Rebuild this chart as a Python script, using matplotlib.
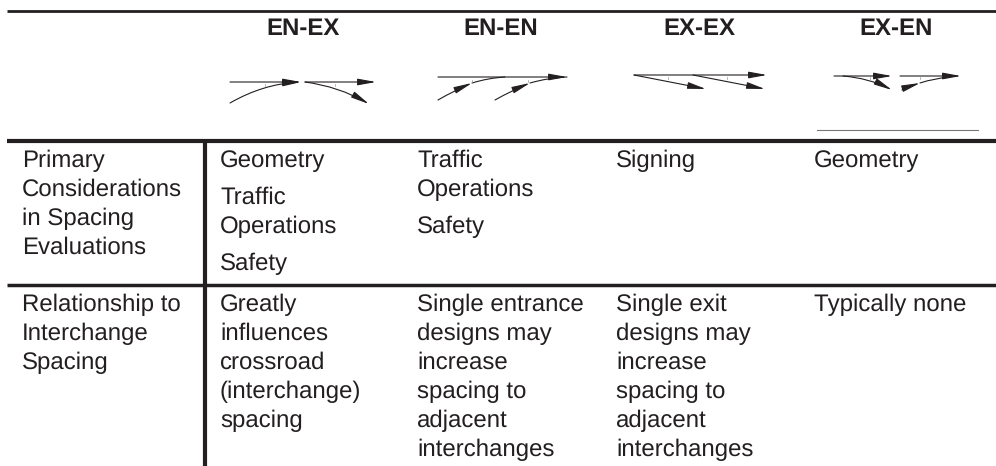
import matplotlib
matplotlib.use("Agg")
import matplotlib.pyplot as plt
from matplotlib.patches import FancyArrowPatch

plt.rcParams['font.family'] = ['Liberation Sans', 'DejaVu Sans']
plt.rcParams['text.hinting'] = 'no_hinting'
plt.rcParams['text.hinting_factor'] = 1

columns = ["EN-EX", "EN-EN", "EX-EX", "EX-EN"]
column_centers = [303, 501, 699, 896]
column_lefts = [220, 417, 616, 814]
row_labels = [["Primary", "Considerations", "in Spacing", "Evaluations"],
              ["Relationship to", "Interchange", "Spacing"]]
row_label_y = [[167, 196, 225, 254], [311, 340, 369]]
row1 = [["Geometry", "Traffic", "Operations", "Safety"],
        ["Traffic", "Operations", "Safety"],
        ["Signing"],
        ["Geometry"]]
row1_y = [[167, 204, 233, 270],
          [167, 196, 233],
          [167],
          [167]]
row2 = [["Greatly", "influences", "crossroad", "(interchange)", "spacing"],
        ["Single entrance", "designs may", "increase", "spacing to", "adjacent", "interchanges"],
        ["Single exit", "designs may", "increase", "spacing to", "adjacent", "interchanges"],
        ["Typically none"]]
row2_y = [311, 340, 369, 398, 427, 456]

# (x0, y0, x1, y1, curvature, has_head)
ramp_arrows = [
    (230, 82, 301, 82, 0, True), (230, 103, 301, 82, -0.12, True),
    (305, 82, 376, 82, 0, True), (305, 82, 369, 104, -0.1, True),
    (438, 77, 567, 77, 0, True),
    (438, 100, 472, 83, -0.03, True), (472, 83, 505, 77, -0.06, False),
    (495, 100, 530, 83, -0.03, True), (530, 83, 567, 77, -0.06, False),
    (634, 75, 767, 75, 0, True), (634, 75, 706, 89, 0, True), (693, 75, 765, 89, 0, True),
    (834, 76, 892, 76, 0, True), (843, 76, 892, 90, -0.1, True),
    (900, 76, 961, 76, 0, True),
    (902, 90, 920, 83, -0.03, True), (920, 83, 950, 77, -0.06, False),
]
tick_x = [265, 335, 472, 528, 668, 727, 870, 920]
tick_y = [85, 85, 81, 81, 78, 78, 78, 78]

fig = plt.figure(figsize=(9.96, 4.66), dpi=100)
ax = fig.add_axes([0, 0, 1, 1])
ax.set_xlim(0, 996)
ax.set_ylim(466, 0)
ax.axis("off")

ink = "#231f20"
fs = 17.0

ax.plot([7, 996], [10.5, 10.5], color=ink, lw=2.0, solid_capstyle="butt")
ax.plot([7, 996], [141, 141], color=ink, lw=3.0, solid_capstyle="butt")
ax.plot([7, 996], [285, 285], color=ink, lw=2.5, solid_capstyle="butt")
ax.plot([205, 205], [141, 466], color=ink, lw=3.0, solid_capstyle="butt")
ax.plot([817, 978], [130, 130], color="#777777", lw=0.8)

for name, cx in zip(columns, column_centers):
    ax.text(cx, 35, name, ha="center", va="baseline", fontsize=17.2,
            fontweight="bold", color=ink)

for lines, ys in zip(row_labels, row_label_y):
    for line, y in zip(lines, ys):
        ax.text(22, y, line, ha="left", va="baseline", fontsize=fs, color=ink)

for x, lines, ys in zip(column_lefts, row1, row1_y):
    for line, y in zip(lines, ys):
        ax.text(x, y, line, ha="left", va="baseline", fontsize=fs, color=ink)

for x, lines in zip(column_lefts, row2):
    for line, y in zip(lines, row2_y):
        ax.text(x, y, line, ha="left", va="baseline", fontsize=fs, color=ink)

for x0, y0, x1, y1, c, head in ramp_arrows:
    style = "-|>,head_length=11,head_width=2.0" if head else "-"
    ax.add_patch(FancyArrowPatch((x0, y0), (x1, y1),
                 connectionstyle=f"arc3,rad={c}",
                 arrowstyle=style,
                 mutation_scale=1, lw=0.8, color=ink,
                 shrinkA=0, shrinkB=0))

for x, y in zip(tick_x, tick_y):
    ax.plot([x, x], [y - 1, y + 1], color="#999999", lw=0.5)

fig.savefig("out.png", dpi=100)
